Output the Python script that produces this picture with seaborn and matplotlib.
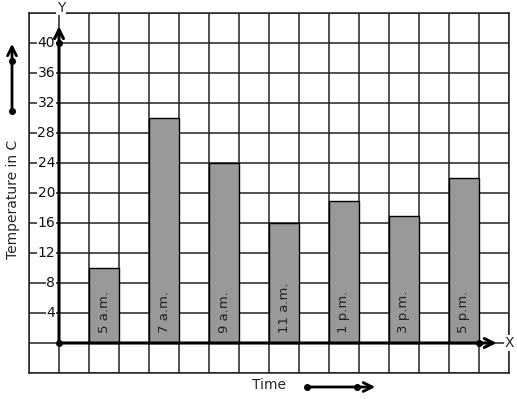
import matplotlib
matplotlib.use("Agg")
import matplotlib.pyplot as plt
import seaborn as sns
import pandas as pd
import numpy as np

times = ["5 a.m.", "7 a.m.", "9 a.m.", "11 a.m.", "1 p.m.", "3 p.m.", "5 p.m."]
temps = [10, 30, 24, 16, 19, 17, 22]
ytick_vals = [4, 8, 12, 16, 20, 24, 28, 32, 36, 40]

sns.set_style("white")
plt.rcParams['font.family'] = ['DejaVu Sans']

W, H = 517, 399
fig = plt.figure(figsize=(W / 100, H / 100), dpi=100)
left, right, top, bottom = 29, 509, 13, 373
ax = fig.add_axes([left / W, (H - bottom) / H, (right - left) / W, (bottom - top) / H])

df = pd.DataFrame({"pos": [1.5 + 2 * i for i in range(len(times))],
                   "temp": temps, "time": times})

sns.barplot(data=df, x="pos", y="temp", native_scale=True, width=0.5,
            color="#999999", saturation=1, edgecolor="black", linewidth=1, ax=ax, zorder=2)

ax.set_xlim(-1, 15)
ax.set_ylim(-4, 44)
ax.set_xticks(np.arange(-1, 16, 1))
ax.set_yticks(np.arange(-4, 45, 4))
ax.set_xticklabels([])
ax.set_yticklabels([])
ax.tick_params(length=0)
ax.grid(True, color="#222222", linewidth=1.1)
ax.set_axisbelow(True)
for s in ax.spines.values():
    s.set_color("#222222")
    s.set_linewidth(1.1)
ax.set_xlabel("")
ax.set_ylabel("")

# bar labels
for p, t in zip(df["pos"], df["time"]):
    ax.text(p, 1.3, t, rotation=90, ha="center", va="bottom", fontsize=9.5,
            color="#222222", zorder=3)

# y tick labels
for v in ytick_vals:
    ax.text(-0.13, v, str(v), ha="right", va="center", fontsize=10, color="#111111",
            bbox=dict(facecolor="white", edgecolor="none", pad=0.5), zorder=3)

# axes arrows
ax.annotate("", xy=(0, 42.6), xytext=(0, 0),
            arrowprops=dict(arrowstyle="->", lw=2.2, color="black", mutation_scale=16), zorder=4)
ax.annotate("", xy=(14.68, 0), xytext=(0, 0),
            arrowprops=dict(arrowstyle="->", lw=2.2, color="black", mutation_scale=16), zorder=4)
ax.plot([0, 0, 14], [0, 40, 0], "o", color="black", ms=4, zorder=5, clip_on=False)
ax.text(15.0, 0, "X", ha="center", va="center", fontsize=10, clip_on=False,
        bbox=dict(facecolor="white", edgecolor="none", pad=0.5), zorder=5)
ax.text(0.07, 44.7, "Y", ha="center", va="center", fontsize=10, clip_on=False,
        bbox=dict(facecolor="white", edgecolor="none", pad=0.5), zorder=5)

# y label and arrow
fig.text(13 / W, 1 - 199 / H, "Temperature in C", rotation=90, ha="center", va="center", fontsize=10)
fig.patches.append(matplotlib.patches.FancyArrowPatch(
    (12 / W, 1 - 111 / H), (12 / W, 1 - 41 / H), transform=fig.transFigure,
    arrowstyle="->", lw=2, color="black", mutation_scale=16))
fig.lines.append(matplotlib.lines.Line2D([12 / W, 12 / W], [1 - 111 / H, 1 - 61 / H],
                 transform=fig.transFigure, marker="o", ms=4, ls="none", color="black"))

# x label and arrow
fig.text(269 / W, 1 - 385 / H, "Time", ha="center", va="center", fontsize=10)
fig.patches.append(matplotlib.patches.FancyArrowPatch(
    (307 / W, 1 - 387 / H), (378 / W, 1 - 387 / H), transform=fig.transFigure,
    arrowstyle="->", lw=2, color="black", mutation_scale=16))
fig.lines.append(matplotlib.lines.Line2D([307 / W, 357 / W], [1 - 387 / H, 1 - 387 / H],
                 transform=fig.transFigure, marker="o", ms=4, ls="none", color="black"))

fig.savefig("out.png", dpi=100)
